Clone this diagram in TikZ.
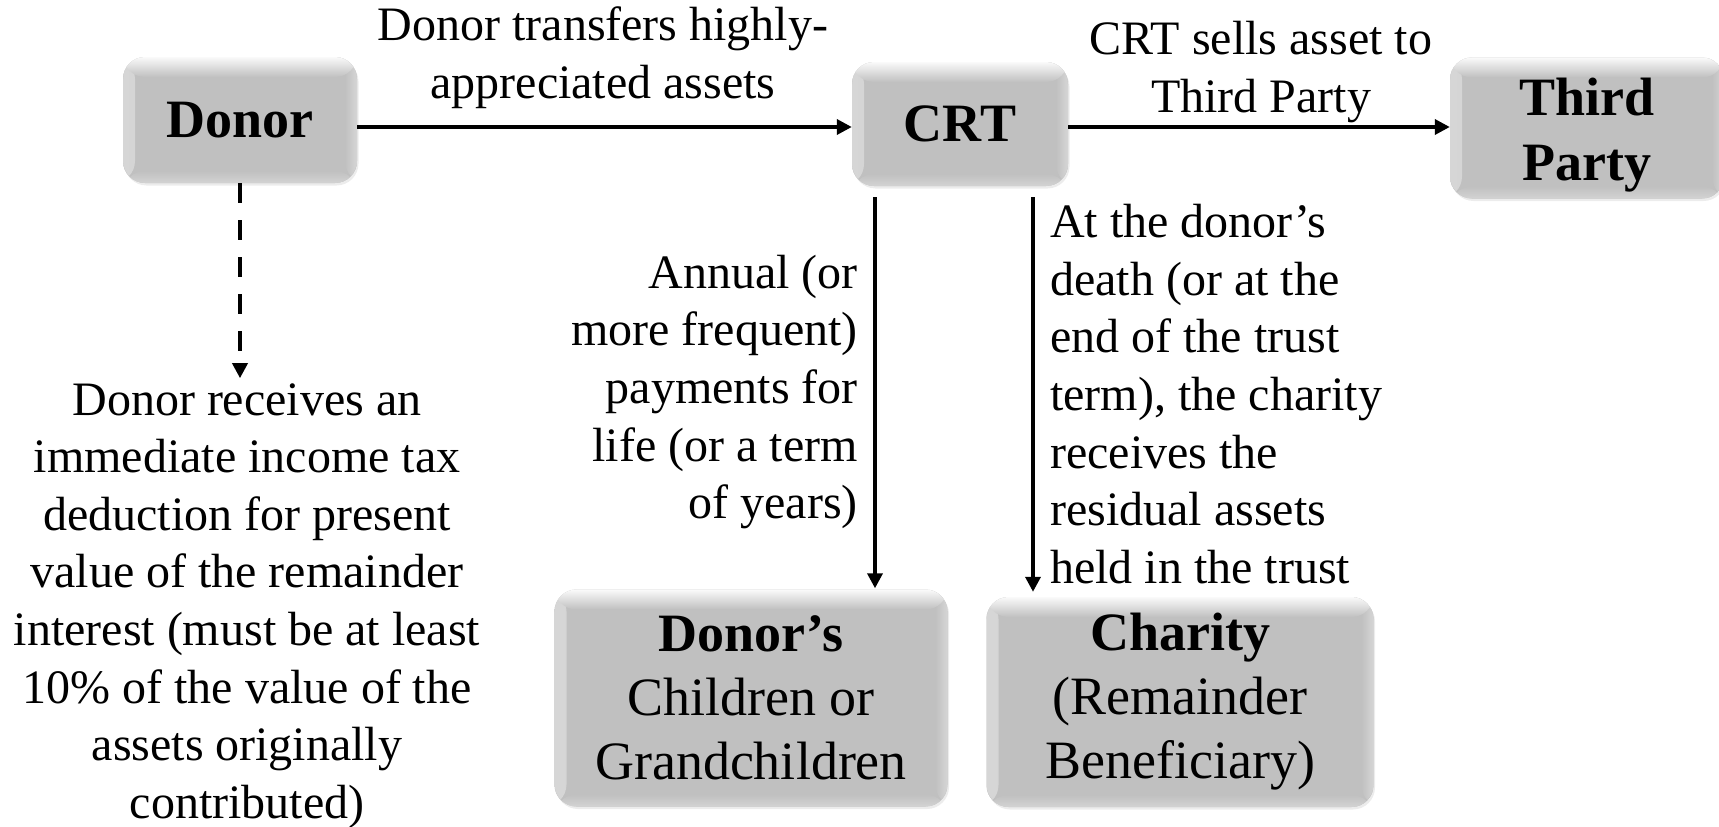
\documentclass[tikz,border=0pt]{standalone}
\usepackage{fontspec}
\setmainfont{Liberation Serif}
\usetikzlibrary{arrows.meta,shadows}
\definecolor{boxgray}{RGB}{192,192,192}
\tikzset{
  box/.style={rounded corners=22pt, fill=boxgray, align=center, inner sep=0pt,
    font=\fontsize{54}{64}\selectfont,
    drop shadow={opacity=0.15, shadow xshift=1.5pt, shadow yshift=-2.5pt},
    path picture={
      \shade[left color=white!35!boxgray, right color=boxgray]
        (path picture bounding box.north west) rectangle ([xshift=12pt]path picture bounding box.south west);
      \shade[right color=white!35!boxgray, left color=boxgray]
        (path picture bounding box.north east) rectangle ([xshift=-12pt]path picture bounding box.south east);
      \shade[bottom color=white!30!boxgray, top color=boxgray]
        (path picture bounding box.south west) rectangle ([yshift=12pt]path picture bounding box.south east);
      \shade[top color=white!92!boxgray, bottom color=boxgray]
        (path picture bounding box.north west) rectangle ([yshift=-20pt]path picture bounding box.north east);
    }},
  boxtext/.style={align=center, inner sep=0pt, font=\fontsize{54}{65}\selectfont},
  lab/.style={font=\fontsize{48}{57.6}\selectfont, inner sep=0pt},
  arr/.style={line width=3.5pt, -{Triangle[length=15pt,width=15pt]}},
}
\begin{document}
\begin{tikzpicture}[x=1pt,y=-1pt]
  \useasboundingbox (0,0) rectangle (1719,827);

  % boxes
  \node[box, minimum width=234pt, minimum height=126pt] (donor) at (240,120) {\textbf{Donor}};
  \node[box, minimum width=216pt, minimum height=124pt] (crt) at (960,124) {\raisebox{-3pt}{\textbf{CRT}}};
  \node[box, minimum width=274pt, minimum height=141pt] (third) at (1587,128) {};
  \node[boxtext] (thirdtext) at ([yshift=-7pt]third.center) {\textbf{Third}\\\textbf{Party}};
  \node[box, minimum width=393pt, minimum height=217pt] (kids) at (751,698) {\textbf{Donor’s}\\Children or\\Grandchildren};
  \node[box, minimum width=387pt, minimum height=210pt] (charity) at (1180,702) {\textbf{Charity}\\(Remainder\\Beneficiary)};

  % reference lines for connectors
  \coordinate (row) at (0,127);
  \coordinate (colA) at (875,0);
  \coordinate (colB) at (1033,0);

  % connectors
  \draw[arr] (donor.east |- row) -- (crt.west |- row);
  \draw[arr] (crt.east |- row) -- (third.west |- row);
  \draw[arr] ([yshift=-11pt]crt.south -| colA) -- ([yshift=1pt]kids.north -| colA);
  \draw[arr] ([yshift=-11pt]crt.south -| colB) -- ([yshift=5pt]charity.north -| colB);
  \draw[arr, dash pattern=on 20pt off 17pt] (donor.south) -- ++(0,195) coordinate (dend);

  % labels
  \node[lab, align=center] (l1) at (603,58) {Donor transfers highly-\\appreciated assets};
  \node[lab, align=center] (l2) at (1261,72) {CRT sells asset to\\Third Party};
  \node[lab, align=right, anchor=east] (l3) at (858,392)
    {Annual (or\\more frequent)\\payments for\\life (or a term\\of years)};
  \node[lab, align=left, anchor=west] (l4) at (1050,394)
    {At the donor’s\\death (or at the\\end of the trust\\term), the charity\\receives the\\residual assets\\held in the trust};
  \node[lab, align=center] (l5) at (247,606)
    {Donor receives an\\immediate income tax\\deduction for present\\value of the remainder\\interest (must be at least\\10\% of the value of the\\assets originally\\contributed)};
\end{tikzpicture}
\end{document}
